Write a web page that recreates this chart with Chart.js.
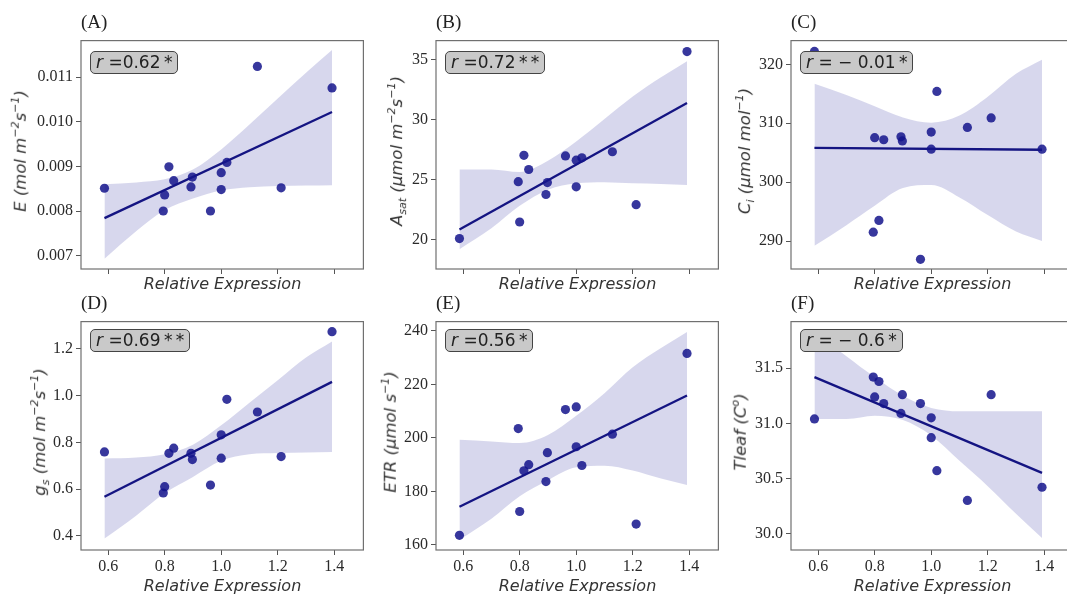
<!DOCTYPE html>
<html>
<head>
<meta charset="UTF-8">
<title>Relative Expression correlations</title>
<script src="https://cdn.jsdelivr.net/npm/chart.js@4.4.1/dist/chart.umd.min.js"></script>
<style>
  body {margin: 0; width: 1067px; height: 595px; overflow: hidden; background: #fff; position: relative;}
  .panel {position: absolute;}
  .plabel {position: absolute; font-family: "Liberation Serif", serif; font-size: 19px; line-height: 19px; color: #222;}
  .ytitle {position: absolute; font-family: "DejaVu Sans", sans-serif; font-style: italic; font-size: 16.5px; color: #333;
           white-space: nowrap; transform: translate(-50%, -50%) rotate(-90deg);}
  .ytitle sup {font-size: 11px;}
  .ytitle sub {font-size: 11px;}
  .xtitle {position: absolute; font-family: "DejaVu Sans", sans-serif; font-style: italic; font-size: 16px; color: #333;
           white-space: nowrap; transform: translate(-50%, -50%);}
  .rbox {position: absolute; font-family: "DejaVu Sans", sans-serif; font-size: 17px; color: #222; background: #c9c9c9;
         border: 1.5px solid #444; border-radius: 5px; padding: 1px 5px 1px 5px; white-space: nowrap; line-height: 19px;}
</style>
</head>
<body>
<script>
// shared x values (relative expression)
var relExpr = [0.587, 0.795, 0.80, 0.815, 0.832, 0.893, 0.898, 0.962, 1.0, 1.0, 1.02, 1.128, 1.212, 1.392];

var eVals    = [0.00851, 0.00800, 0.00836, 0.00899, 0.00868, 0.00854, 0.00876, 0.00800, 0.00886, 0.00848, 0.00909, 0.01124, 0.00852, 0.01076];
var asatVals = [20.1, 24.84, 21.48, 27.03, 25.85, 23.77, 24.76, 26.98, 26.63, 24.41, 26.82, 27.33, 22.92, 35.67];
var ciVals   = [322.2, 291.5, 307.55, 293.5, 307.2, 307.7, 307.0, 286.9, 308.5, 305.6, 315.4, 309.3, 310.9, 305.6];
var gsVals   = [0.759, 0.583, 0.61, 0.753, 0.775, 0.753, 0.726, 0.617, 0.832, 0.732, 0.984, 0.93, 0.739, 1.274];
var etrVals  = [163.6, 203.5, 172.5, 187.7, 190.0, 183.7, 194.5, 210.6, 211.6, 196.7, 189.7, 201.4, 167.8, 231.6];
var tleafVals = [31.04, 31.42, 31.24, 31.38, 31.18, 31.09, 31.26, 31.18, 31.05, 30.87, 30.57, 30.30, 31.26, 30.42];

// regression lines (end points) and confidence band
var lineX = [0.587, 1.392];
var bandX = [0.587, 0.7, 0.8, 0.9, 1.0, 1.1, 1.2, 1.3, 1.392];

var eLine = [0.00784, 0.01022];
var eUpper = [0.00860, 0.00864, 0.00871, 0.00893, 0.00938, 0.00994, 0.01052, 0.0111, 0.01161];
var eLower = [0.00693, 0.00755, 0.00802, 0.00828, 0.00846, 0.00853, 0.00856, 0.00857, 0.00858];

var asatLine = [20.86, 31.39];
var asatUpper = [25.86, 25.86, 25.64, 26.58, 28.18, 30.05, 31.93, 33.53, 34.87];
var asatLower = [19.22, 20.96, 22.83, 24.17, 24.70, 24.79, 24.70, 24.64, 24.57];

var ciLine = [305.82, 305.5];
var ciUpper = [316.7, 314.8, 312.9, 311.0, 310.1, 311.3, 314.5, 318.4, 320.8];
var ciLower = [289.2, 292.7, 296.0, 299.0, 299.5, 297.4, 294.4, 291.6, 290.0];

var gsLine = [0.567, 1.059];
var gsUpper = [0.731, 0.735, 0.749, 0.790, 0.873, 0.970, 1.066, 1.163, 1.232];
var gsLower = [0.388, 0.487, 0.583, 0.652, 0.721, 0.749, 0.754, 0.757, 0.759];

var etrLine = [174.3, 215.9];
var etrUpper = [199.3, 198.7, 198.1, 201.1, 208.3, 216.7, 226.4, 233.6, 239.6];
var etrLower = [161.9, 169.8, 178.2, 184.2, 189.0, 189.6, 187.8, 184.8, 182.4];

var tleafLine = [31.42, 30.55];
var tleafUpper = [31.83, 31.61, 31.42, 31.25, 31.14, 31.11, 31.11, 31.11, 31.11];
var tleafLower = [31.04, 31.04, 31.07, 31.03, 30.89, 30.66, 30.43, 30.18, 29.96];

// tick labels
var xTicks = [0.6, 0.8, 1.0, 1.2, 1.4];
var eTicks = [0.007, 0.008, 0.009, 0.010, 0.011];
var asatTicks = [20, 25, 30, 35];
var ciTicks = [290, 300, 310, 320];
var gsTicks = [0.4, 0.6, 0.8, 1.0, 1.2];
var etrTicks = [160, 180, 200, 220, 240];
var tleafTicks = [30.0, 30.5, 31.0, 31.5];

var panels = [
  {tag: '(A)', col: 0, row: 0, y: eVals, line: eLine, up: eUpper, lo: eLower, ticks: eTicks, dec: 3, ymin: 0.0067, ymax: 0.01182,
   ytitle: 'E (mol m<sup>−2</sup>s<sup>−1</sup>)', yoff: 62, r: '<i>r</i> =0.62&thinsp;*'},
  {tag: '(B)', col: 1, row: 0, y: asatVals, line: asatLine, up: asatUpper, lo: asatLower, ticks: asatTicks, dec: 0, ymin: 17.57, ymax: 36.58,
   ytitle: 'A<sub>sat</sub> (μmol m<sup>−2</sup>s<sup>−1</sup>)', yoff: 39, r: '<i>r</i> =0.72&thinsp;*&thinsp;*'},
  {tag: '(C)', col: 2, row: 0, y: ciVals, line: ciLine, up: ciUpper, lo: ciLower, ticks: ciTicks, dec: 0, ymin: 285.25, ymax: 324.04,
   ytitle: 'C<sub>i</sub> (μmol mol<sup>−1</sup>)', yoff: 46, r: '<i>r</i> = − 0.01&thinsp;*'},
  {tag: '(D)', col: 0, row: 1, y: gsVals, line: gsLine, up: gsUpper, lo: gsLower, ticks: gsTicks, dec: 1, ymin: 0.339, ymax: 1.317,
   ytitle: 'g<sub>s</sub> (mol m<sup>−2</sup>s<sup>−1</sup>)', yoff: 41, r: '<i>r</i> =0.69&thinsp;*&thinsp;*'},
  {tag: '(E)', col: 1, row: 1, y: etrVals, line: etrLine, up: etrUpper, lo: etrLower, ticks: etrTicks, dec: 0, ymin: 158.1, ymax: 243.5,
   ytitle: 'ETR (μmol s<sup>−1</sup>)', yoff: 47, r: '<i>r</i> =0.56&thinsp;*'},
  {tag: '(F)', col: 2, row: 1, y: tleafVals, line: tleafLine, up: tleafUpper, lo: tleafLower, ticks: tleafTicks, dec: 1, ymin: 29.85, ymax: 31.924,
   ytitle: 'Tleaf (C<sup>o</sup>)', yoff: 52, r: '<i>r</i> = − 0.6&thinsp;*'}
];

var colLeft = [81, 436, 791];
var rowTop = [32, 313];
var frameW = 283, frameH = 237;
var padL = 60, padT = 4, padR = 4, padB = 30;

var navy = 'rgb(20, 20, 130)';

// draw the box around the plot area
var framePlugin = {
  id: 'frame',
  afterDraw: function(chart) {
    var a = chart.chartArea, ctx = chart.ctx;
    ctx.save();
    ctx.strokeStyle = '#707070';
    ctx.lineWidth = 1.2;
    ctx.strokeRect(a.left, a.top, a.right - a.left, a.bottom - a.top);
    ctx.restore();
  }
};

function pts(xs, ys) {
  return xs.map(function(x, i) { return {x: x, y: ys[i]}; });
}

function addDiv(cls, html, left, top) {
  var d = document.createElement('div');
  d.className = cls;
  d.innerHTML = html;
  d.style.left = left + 'px';
  d.style.top = top + 'px';
  document.body.appendChild(d);
  return d;
}

panels.forEach(function(p) {
  var fl = colLeft[p.col], ft = rowTop[p.row];
  var wrap = document.createElement('div');
  wrap.className = 'panel';
  wrap.style.left = (fl - padL) + 'px';
  wrap.style.top = (ft - padT) + 'px';
  var cv = document.createElement('canvas');
  cv.width = padL + frameW + padR;
  cv.height = padT + frameH + padB;
  wrap.appendChild(cv);
  document.body.appendChild(wrap);

  var showX = p.row === 1;
  new Chart(cv, {
    type: 'scatter',
    data: {
      datasets: [
        {data: pts(relExpr, p.y), backgroundColor: 'rgba(20, 20, 140, 0.85)', borderWidth: 0, pointRadius: 4.6, pointHoverRadius: 4.6},
        {type: 'line', data: pts(lineX, p.line), borderColor: navy, borderWidth: 2.3, pointRadius: 0, fill: false},
        {type: 'line', data: pts(bandX, p.up), borderWidth: 0, pointRadius: 0, cubicInterpolationMode: 'monotone',
         backgroundColor: 'rgba(40, 40, 160, 0.19)', fill: '+1'},
        {type: 'line', data: pts(bandX, p.lo), borderWidth: 0, pointRadius: 0, cubicInterpolationMode: 'monotone', fill: false}
      ]
    },
    options: {
      responsive: false,
      animation: false,
      events: [],
      layout: {padding: {left: 0, top: padT, right: padR, bottom: 0}},
      plugins: {legend: {display: false}, tooltip: {enabled: false}},
      scales: {
        x: {
          type: 'linear', min: 0.504, max: 1.503,
          afterBuildTicks: function(s) { s.ticks = xTicks.map(function(v) { return {value: v}; }); },
          afterFit: function(s) { s.height = padB; },
          border: {display: false},
          grid: {drawOnChartArea: false, drawTicks: true, tickLength: 5, color: '#555', tickWidth: 1},
          ticks: {
            padding: 2, color: '#2a2a2a', maxRotation: 0,
            font: {family: 'Liberation Serif', size: 16},
            callback: function(v) { return showX ? v.toFixed(1) : ''; }
          }
        },
        y: {
          type: 'linear', min: p.ymin, max: p.ymax,
          afterBuildTicks: function(s) { s.ticks = p.ticks.map(function(v) { return {value: v}; }); },
          afterFit: function(s) { s.width = padL; },
          border: {display: false},
          grid: {drawOnChartArea: false, drawTicks: true, tickLength: 5, color: '#555', tickWidth: 1},
          ticks: {
            padding: 3, color: '#2a2a2a',
            font: {family: 'Liberation Serif', size: 16},
            callback: function(v) { return v.toFixed(p.dec); }
          }
        }
      }
    },
    plugins: [framePlugin]
  });

  addDiv('plabel', p.tag, fl, ft - 20);
  addDiv('ytitle', p.ytitle, fl - p.yoff, ft + frameH / 2);
  addDiv('xtitle', 'Relative Expression', fl + frameW / 2, p.row === 0 ? 283 : 585);
  addDiv('rbox', p.r, fl + 9, ft + (p.row === 0 ? 19 : 16));
});
</script>
</body>
</html>
